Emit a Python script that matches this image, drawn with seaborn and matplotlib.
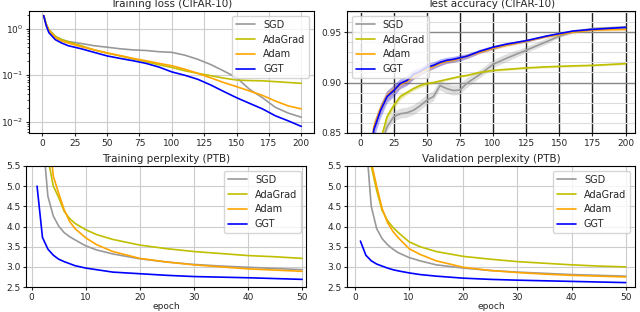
import numpy as np
import pandas as pd
import seaborn as sns
import matplotlib
matplotlib.use("Agg")
import matplotlib.pyplot as plt
from matplotlib.ticker import MultipleLocator

methods = ["SGD", "AdaGrad", "Adam", "GGT"]
colors = {"SGD": "#999999", "AdaGrad": "#bfbf00", "Adam": "#ffa500", "GGT": "#0000ff"}

# training loss, CIFAR-10 (log scale)
loss_epochs = [1, 3, 5, 10, 15, 20, 30, 40, 50, 60, 70, 80, 90, 100, 110, 120, 130, 140, 150, 160, 170, 180, 190, 200]
loss_sgd = [1.9, 1.25, 0.95, 0.68, 0.58, 0.53, 0.48, 0.43, 0.40, 0.37, 0.35, 0.34, 0.32, 0.31, 0.27, 0.22, 0.17, 0.124, 0.089, 0.05, 0.033, 0.0205, 0.0154, 0.0126]
loss_adagrad = [1.9, 1.25, 0.95, 0.68, 0.58, 0.52, 0.43, 0.35, 0.30, 0.26, 0.225, 0.195, 0.168, 0.147, 0.125, 0.11, 0.098, 0.087, 0.079, 0.077, 0.076, 0.073, 0.070, 0.067]
loss_adam = [1.9, 1.2, 0.9, 0.64, 0.54, 0.49, 0.41, 0.35, 0.30, 0.265, 0.23, 0.205, 0.18, 0.16, 0.135, 0.11, 0.088, 0.07, 0.057, 0.046, 0.037, 0.028, 0.022, 0.019]
loss_ggt = [1.9, 1.15, 0.82, 0.58, 0.49, 0.43, 0.37, 0.31, 0.26, 0.23, 0.205, 0.18, 0.150, 0.118, 0.10, 0.082, 0.062, 0.045, 0.033, 0.025, 0.019, 0.0135, 0.0105, 0.0080]

# test accuracy, CIFAR-10 (mean and band half-width)
acc_epochs = [1, 5, 10, 15, 20, 25, 30, 35, 40, 45, 50, 55, 60, 65, 70, 75, 80, 90, 100, 110, 125, 140, 150, 160, 175, 200]
acc_sgd = [0.60, 0.72, 0.79, 0.835, 0.856, 0.866, 0.869, 0.870, 0.8725, 0.877, 0.8825, 0.886, 0.897, 0.894, 0.892, 0.8925, 0.899, 0.908, 0.918, 0.924, 0.932, 0.9403, 0.946, 0.950, 0.9535, 0.955]
acc_adagrad = [0.65, 0.75, 0.81, 0.842, 0.866, 0.877, 0.886, 0.890, 0.894, 0.897, 0.899, 0.900, 0.9015, 0.903, 0.9045, 0.906, 0.907, 0.910, 0.912, 0.913, 0.9145, 0.9155, 0.916, 0.9165, 0.917, 0.9187]
acc_adam = [0.70, 0.80, 0.856, 0.874, 0.887, 0.893, 0.898, 0.901, 0.906, 0.910, 0.913, 0.916, 0.919, 0.921, 0.922, 0.924, 0.926, 0.930, 0.934, 0.937, 0.941, 0.9455, 0.9475, 0.950, 0.952, 0.9527]
acc_ggt = [0.70, 0.80, 0.853, 0.872, 0.886, 0.892, 0.899, 0.902, 0.908, 0.911, 0.915, 0.917, 0.920, 0.922, 0.923, 0.9245, 0.926, 0.931, 0.935, 0.938, 0.9415, 0.946, 0.9485, 0.951, 0.9527, 0.9547]
band_sgd = [0.008, 0.007, 0.006, 0.006, 0.005, 0.005, 0.005, 0.005, 0.005, 0.005, 0.005, 0.005, 0.005, 0.005, 0.005, 0.005, 0.005, 0.004, 0.004, 0.004, 0.003, 0.003, 0.002, 0.002, 0.001, 0.001]
band_adagrad = [0.006, 0.005, 0.005, 0.004, 0.004, 0.003, 0.003, 0.002, 0.002, 0.002, 0.002, 0.001, 0.001, 0.001, 0.001, 0.001, 0.001, 0.001, 0.001, 0.001, 0.001, 0.001, 0.001, 0.001, 0.001, 0.001]
band_adam = [0.008, 0.007, 0.006, 0.005, 0.005, 0.004, 0.004, 0.003, 0.003, 0.003, 0.003, 0.002, 0.002, 0.002, 0.002, 0.002, 0.002, 0.0015, 0.0015, 0.0015, 0.001, 0.001, 0.001, 0.001, 0.001, 0.001]
band_ggt = [0.010, 0.009, 0.008, 0.007, 0.006, 0.006, 0.005, 0.005, 0.0045, 0.004, 0.004, 0.0035, 0.0035, 0.003, 0.003, 0.003, 0.0025, 0.002, 0.002, 0.0015, 0.0015, 0.001, 0.001, 0.001, 0.001, 0.001]

# PTB perplexity (log)
ppl_epochs = [1, 2, 3, 4, 5, 6, 7, 8, 10, 12, 15, 20, 25, 30, 35, 40, 45, 50]
train_sgd = [8.0, 6.3, 4.75, 4.26, 4.01, 3.85, 3.75, 3.67, 3.52, 3.42, 3.32, 3.20, 3.12, 3.06, 3.02, 2.99, 2.96, 2.93]
train_adagrad = [8.0, 6.5, 5.7, 5.0, 4.72, 4.38, 4.2, 4.08, 3.92, 3.8, 3.68, 3.54, 3.45, 3.38, 3.33, 3.28, 3.25, 3.21]
train_adam = [9.5, 7.8, 6.5, 5.25, 4.82, 4.42, 4.13, 3.95, 3.72, 3.55, 3.38, 3.21, 3.12, 3.05, 3.00, 2.95, 2.92, 2.89]
train_ggt = [5.0, 3.73, 3.44, 3.29, 3.19, 3.13, 3.08, 3.03, 2.97, 2.93, 2.87, 2.83, 2.79, 2.76, 2.745, 2.73, 2.71, 2.69]
val_sgd = [8.0, 6.2, 4.5, 3.95, 3.7, 3.55, 3.44, 3.35, 3.23, 3.15, 3.05, 2.97, 2.91, 2.87, 2.84, 2.81, 2.79, 2.77]
val_adagrad = [8.0, 6.5, 5.5, 4.9, 4.4, 4.15, 3.98, 3.85, 3.62, 3.5, 3.38, 3.26, 3.19, 3.13, 3.09, 3.05, 3.02, 3.0]
val_adam = [9.0, 7.5, 5.6, 5.0, 4.45, 4.1, 3.88, 3.72, 3.45, 3.31, 3.15, 2.99, 2.91, 2.86, 2.82, 2.79, 2.77, 2.75]
val_ggt = [3.64, 3.29, 3.15, 3.07, 3.02, 2.97, 2.93, 2.9, 2.85, 2.81, 2.77, 2.72, 2.69, 2.67, 2.655, 2.64, 2.625, 2.61]

sns.set_theme(style="ticks", rc={
    "axes.edgecolor": "black", "axes.linewidth": 0.8,
    "xtick.major.size": 2.5, "ytick.major.size": 2.5,
    "ytick.minor.size": 1.5, "ytick.minor.width": 0.6,
    "xtick.major.width": 0.8, "ytick.major.width": 0.8,
    "xtick.major.pad": 2, "ytick.major.pad": 1.5,
    "xtick.labelsize": 6.5, "ytick.labelsize": 6.5,
    "axes.titlesize": 7.5, "axes.labelsize": 6.5, "legend.fontsize": 7,
    "grid.color": "#cccccc", "grid.linewidth": 0.8,
})
plt.rcParams["font.family"] = ["DejaVu Sans"]

fig = plt.figure(figsize=(6.4, 3.12), dpi=100)
ax_loss = fig.add_axes([0.045, 0.574, 0.446, 0.391])
ax_acc = fig.add_axes([0.542, 0.574, 0.450, 0.391])
ax_tr = fig.add_axes([0.041, 0.080, 0.437, 0.388])
ax_va = fig.add_axes([0.542, 0.080, 0.450, 0.388])

def long_df(x, series):
    rows = []
    for m, ys in series.items():
        for xi, yi in zip(x, ys):
            rows.append((m, xi, yi))
    return pd.DataFrame(rows, columns=["method", "epoch", "value"])

lw = 1.2

# training loss
loss_df = long_df(loss_epochs, {"SGD": loss_sgd, "AdaGrad": loss_adagrad, "Adam": loss_adam, "GGT": loss_ggt})
for m in methods:
    d = loss_df[loss_df.method == m]
    sns.lineplot(x=d.epoch, y=d.value, color=colors[m], lw=lw, label=m, ax=ax_loss)
ax_loss.set_yscale("log")
ax_loss.set_xlim(-10.5, 210)
ax_loss.set_ylim(0.0058, 2.4)
ax_loss.xaxis.set_major_locator(MultipleLocator(25))
ax_loss.grid(True, which="major")
ax_loss.set_title("Training loss (CIFAR-10)", pad=3)
ax_loss.legend(loc="upper right", fancybox=True)

# test accuracy with bands
acc_df = long_df(acc_epochs, {"SGD": acc_sgd, "AdaGrad": acc_adagrad, "Adam": acc_adam, "GGT": acc_ggt})
bands = {"SGD": band_sgd, "AdaGrad": band_adagrad, "Adam": band_adam, "GGT": band_ggt}
for m in methods:
    d = acc_df[acc_df.method == m]
    b = np.array(bands[m])
    ax_acc.fill_between(d.epoch, d.value - b, d.value + b, color=colors[m], alpha=0.3, lw=0)
    sns.lineplot(x=d.epoch, y=d.value, color=colors[m], lw=lw, label=m, ax=ax_acc)
ax_acc.set_xlim(-10.3, 207)
ax_acc.set_ylim(0.85, 0.971)
ax_acc.xaxis.set_major_locator(MultipleLocator(25))
ax_acc.yaxis.set_major_locator(MultipleLocator(0.05))
ax_acc.yaxis.set_minor_locator(MultipleLocator(0.01))
ax_acc.grid(True, axis="x", which="major", color="#222222", lw=1.0)
ax_acc.grid(True, axis="y", which="major", color="#888888", lw=1.0)
ax_acc.grid(True, axis="y", which="minor", color="#dddddd", lw=0.8)
ax_acc.tick_params(axis="y", which="minor", length=0)
ax_acc.set_title("Test accuracy (CIFAR-10)", pad=3)
ax_acc.legend(loc="upper left", fancybox=True)

# perplexity panels
for ax, title, series in [
    (ax_tr, "Training perplexity (PTB)", {"SGD": train_sgd, "AdaGrad": train_adagrad, "Adam": train_adam, "GGT": train_ggt}),
    (ax_va, "Validation perplexity (PTB)", {"SGD": val_sgd, "AdaGrad": val_adagrad, "Adam": val_adam, "GGT": val_ggt}),
]:
    df = long_df(ppl_epochs, series)
    for m in methods:
        d = df[df.method == m]
        sns.lineplot(x=d.epoch, y=d.value, color=colors[m], lw=lw, label=m, ax=ax)
    ax.set_ylim(2.5, 5.5)
    ax.yaxis.set_major_locator(MultipleLocator(0.5))
    ax.xaxis.set_major_locator(MultipleLocator(10))
    ax.grid(True, which="major")
    ax.set_title(title, pad=3)
    ax.set_xlabel("epoch", labelpad=-0.5)
    ax.legend(loc="upper right", fancybox=True)
ax_tr.set_xlim(-1.0, 50.7)
ax_va.set_xlim(-1.5, 51.7)

for ax in [ax_loss, ax_acc]:
    ax.set_xlabel("")
for ax in [ax_loss, ax_acc, ax_tr, ax_va]:
    ax.set_ylabel("")

fig.savefig("out.png", dpi=100)
